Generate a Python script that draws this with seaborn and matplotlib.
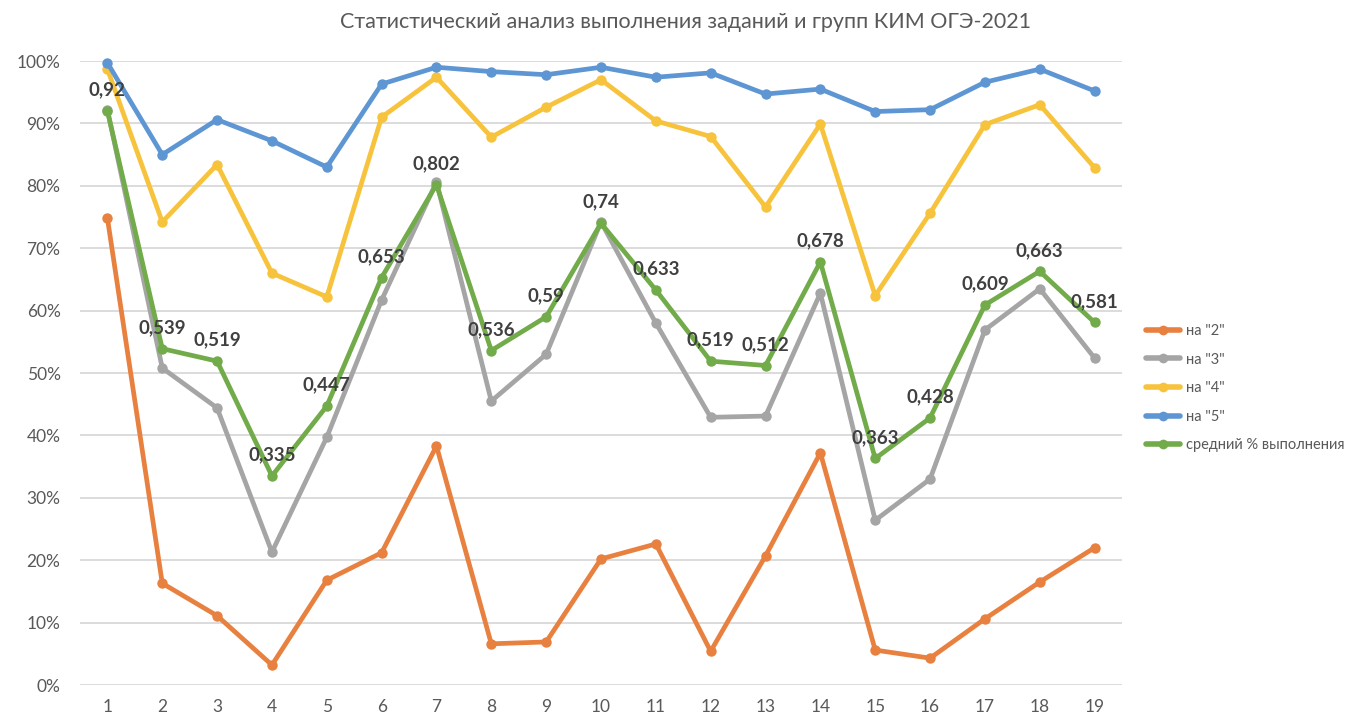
import numpy as np
import pandas as pd
import matplotlib
matplotlib.use("Agg")
import matplotlib.pyplot as plt
import seaborn as sns
from matplotlib.lines import Line2D

# ---- data ----
tasks = list(range(1, 20))
series_names = ['на "2"', 'на "3"', 'на "4"', 'на "5"', 'средний % выполнения']
na2 = [0.748, 0.163, 0.111, 0.032, 0.168, 0.212, 0.383, 0.066, 0.069, 0.202,
       0.226, 0.054, 0.207, 0.372, 0.056, 0.043, 0.106, 0.165, 0.220]
na3 = [0.922, 0.508, 0.444, 0.213, 0.397, 0.617, 0.806, 0.455, 0.530, 0.742,
       0.580, 0.429, 0.431, 0.628, 0.264, 0.330, 0.569, 0.635, 0.524]
na4 = [0.987, 0.742, 0.834, 0.660, 0.622, 0.910, 0.974, 0.878, 0.926, 0.970,
       0.904, 0.879, 0.766, 0.899, 0.624, 0.756, 0.898, 0.930, 0.829]
na5 = [0.997, 0.850, 0.906, 0.872, 0.830, 0.963, 0.990, 0.983, 0.978, 0.990,
       0.974, 0.981, 0.947, 0.955, 0.919, 0.922, 0.966, 0.987, 0.952]
avg = [0.92, 0.539, 0.519, 0.335, 0.447, 0.653, 0.802, 0.536, 0.59, 0.74,
       0.633, 0.519, 0.512, 0.678, 0.363, 0.428, 0.609, 0.663, 0.581]
title = "Статистический анализ выполнения заданий и групп КИМ ОГЭ-2021"
ytick_vals = [0, 0.1, 0.2, 0.3, 0.4, 0.5, 0.6, 0.7, 0.8, 0.9, 1.0]
colors = ["#E8803F", "#A5A5A5", "#F8C33C", "#5E96D4", "#72AB4A"]

rows = []
for name, vals in zip(series_names, [na2, na3, na4, na5, avg]):
    for t, v in zip(tasks, vals):
        rows.append({"task": t, "value": v, "series": name})
df = pd.DataFrame(rows)

sns.set_theme(style="white")
plt.rcParams['font.family'] = ['Lato', 'DejaVu Sans']

fig = plt.figure(figsize=(13.45, 7.18), dpi=100)
ax = fig.add_axes([80/1345, 1 - 685/718, (1122-80)/1345, (685-61)/718])

sns.lineplot(data=df, x="task", y="value", hue="series", hue_order=series_names,
             palette=colors, marker="o", markersize=7.5, markeredgewidth=0,
             linewidth=3.4, ax=ax, legend=False)
for line in ax.lines:
    line.set_clip_on(False)

# data labels for average
for t, v in zip(tasks, avg):
    ax.annotate(f"{v:g}".replace(".", ","), (t, v), xytext=(0, 9),
                textcoords="offset points", ha="center", va="bottom",
                fontsize=13.5, fontweight="bold", color="#404040")

ax.set_xlim(0.5, 19.5)
ax.set_ylim(0, 1.0)
ax.set_xticks(tasks)
ax.set_xticklabels([str(t) for t in tasks])
ax.set_yticks(ytick_vals)
ax.set_yticklabels([f"{int(round(v*100))}%" for v in ytick_vals])
ax.tick_params(axis="both", length=0, labelsize=12.5, colors="#595959")
ax.tick_params(axis="x", pad=10)
ax.tick_params(axis="y", pad=14)
ax.grid(axis="y", color="#d9d9d9", linewidth=1.3)
ax.set_axisbelow(True)
for s in ax.spines.values():
    s.set_visible(False)
ax.set_xlabel("")
ax.set_ylabel("")

fig.text(686/1345, 1 - 22/718, title, ha="center", va="center",
         fontsize=15.5, color="#595959")

# legend
handles = [Line2D([0], [0], color=c, linewidth=4, marker="o", markersize=7,
                  markeredgewidth=0) for c in colors]
leg = fig.legend(handles, series_names, loc="upper left",
                 bbox_to_anchor=(1146/1345, 1 - 324/718), frameon=False,
                 fontsize=10.5, handlelength=2.3, handletextpad=0.45,
                 labelspacing=1.0, borderpad=0, borderaxespad=0)
for t in leg.get_texts():
    t.set_color("#595959")

fig.savefig("out.png", dpi=100)
